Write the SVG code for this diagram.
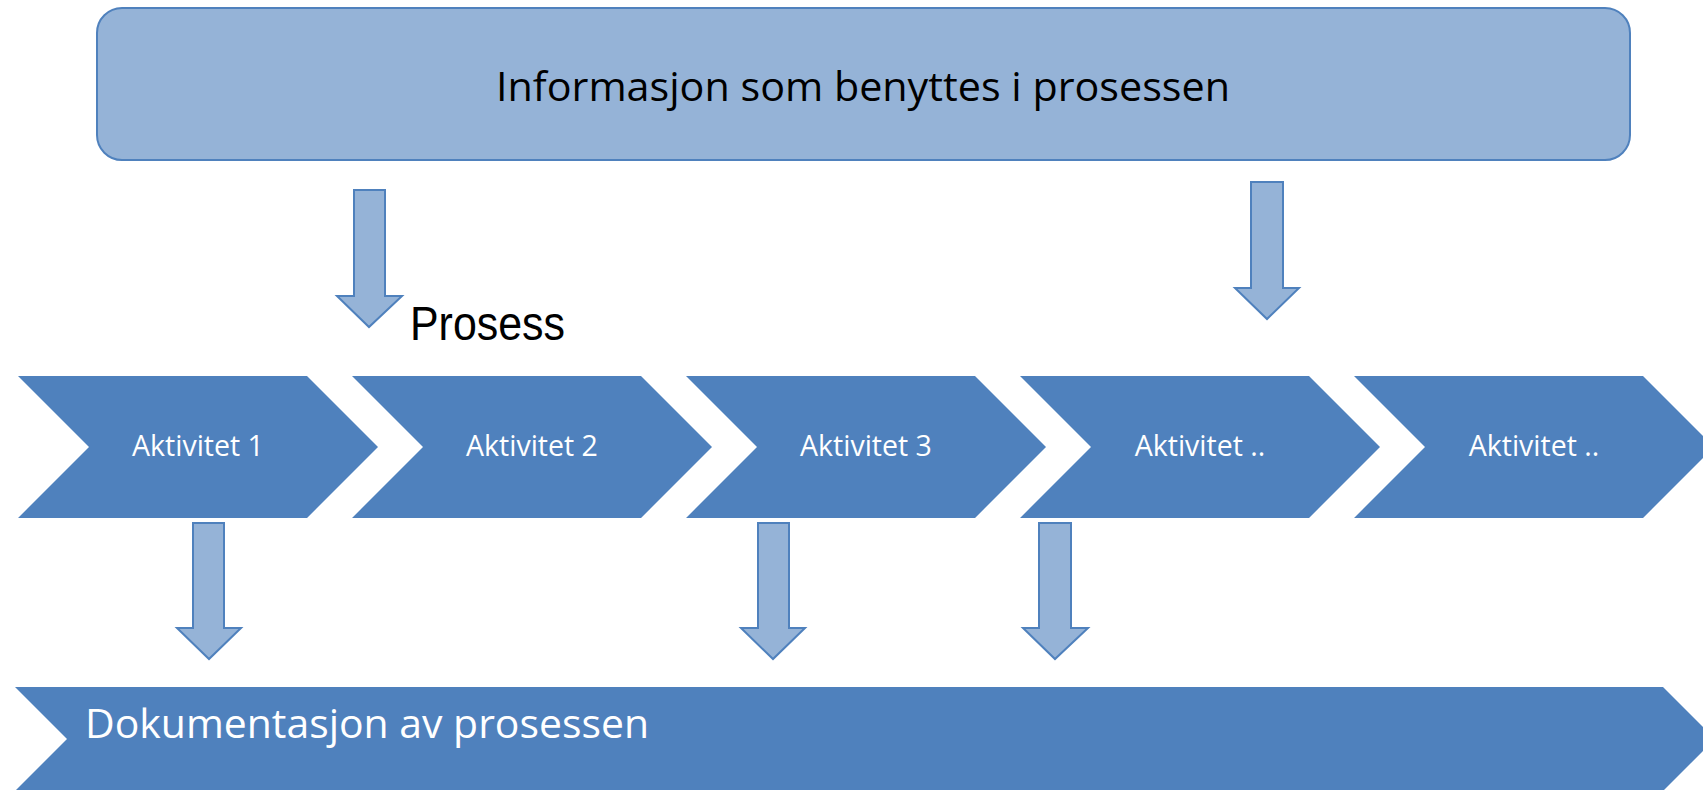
<svg xmlns="http://www.w3.org/2000/svg" width="1703" height="790" viewBox="0 0 1703 790">
<defs>
<style>
.chev{fill:#4f81bd;stroke:none}
.box{fill:#95b3d7;stroke:#4f81bd;stroke-width:2}
.arr{fill:#95b3d7;stroke:#4f81bd;stroke-width:2;stroke-linejoin:miter}
.ct{font-family:"Open Sans","Noto Sans",sans-serif;font-size:28.5px;fill:#ffffff;text-anchor:middle}
.big{font-family:"Open Sans","Noto Sans",sans-serif;font-size:41px}
</style>
</defs>
<rect width="1703" height="790" fill="#ffffff"/>
<g id="info">
<rect class="box" x="97" y="8" width="1533" height="152" rx="25" ry="25"/>
<text class="big" x="863" y="101" text-anchor="middle" fill="#000000" textLength="734" lengthAdjust="spacingAndGlyphs">Informasjon som benyttes i prosessen</text>
</g>
<g id="prosess-label">
<text x="410" y="340" font-family="Liberation Sans, Arial, sans-serif" font-size="49" fill="#000000" textLength="155" lengthAdjust="spacingAndGlyphs">Prosess</text>
</g>
<g id="aktivitet1">
<polygon class="chev" points="18,376 307,376 378,447 307,518 18,518 89,447"/>
<text class="ct" x="198" y="456">Aktivitet 1</text>
</g>
<g id="aktivitet2">
<polygon class="chev" points="352,376 641,376 712,447 641,518 352,518 423,447"/>
<text class="ct" x="532" y="456">Aktivitet 2</text>
</g>
<g id="aktivitet3">
<polygon class="chev" points="686,376 975,376 1046,447 975,518 686,518 757,447"/>
<text class="ct" x="866" y="456">Aktivitet 3</text>
</g>
<g id="aktivitet4">
<polygon class="chev" points="1020,376 1309,376 1380,447 1309,518 1020,518 1091,447"/>
<text class="ct" x="1200" y="456">Aktivitet ..</text>
</g>
<g id="aktivitet5">
<polygon class="chev" points="1354,376 1643,376 1714,447 1643,518 1354,518 1425,447"/>
<text class="ct" x="1534" y="456">Aktivitet ..</text>
</g>
<g id="dokumentasjon">
<polygon class="chev" points="15,687 1663,687 1715,739 1663,791 15,791 67,739"/>
<text class="big" x="85" y="738" fill="#ffffff" textLength="564" lengthAdjust="spacingAndGlyphs">Dokumentasjon av prosessen</text>
</g>
<g id="connectors">
<polygon class="arr" points="354,190 385,190 385,296 402,296 369,327 337,296 354,296"/>
<polygon class="arr" points="1251,182 1283,182 1283,288 1299,288 1267,319 1235,288 1251,288"/>
<polygon class="arr" points="193,523 224,523 224,628 241,628 209,659 177,628 193,628"/>
<polygon class="arr" points="758,523 789,523 789,628 805,628 773,659 741,628 758,628"/>
<polygon class="arr" points="1039,523 1071,523 1071,628 1088,628 1055,659 1023,628 1039,628"/>
</g>
</svg>
